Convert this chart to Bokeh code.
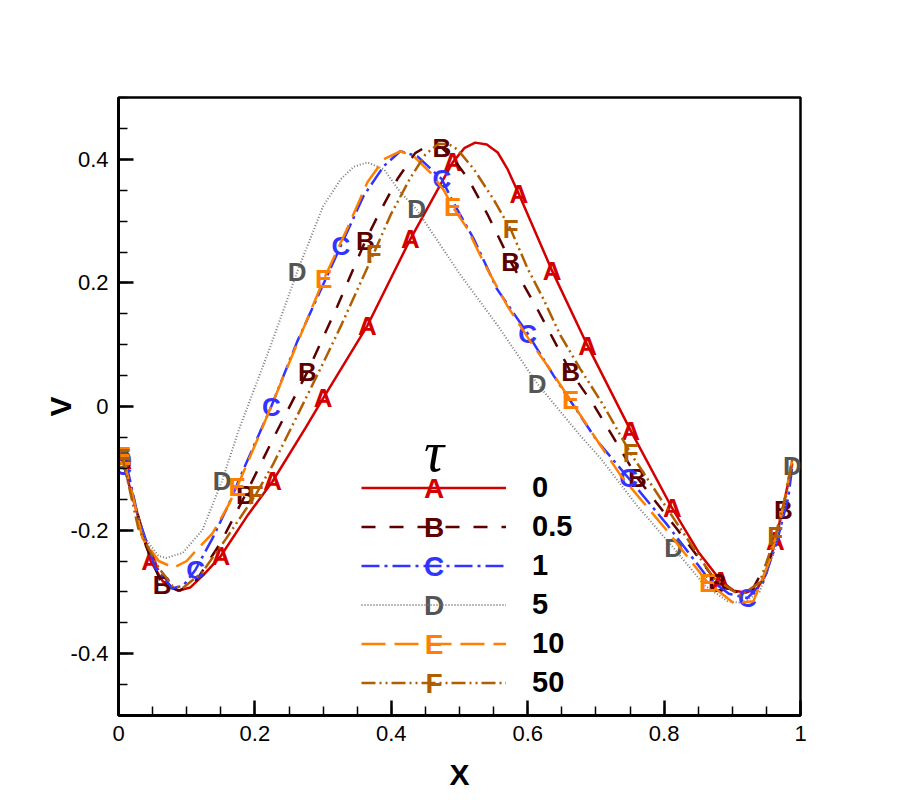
from bokeh.plotting import figure
from bokeh.models import (Range1d, FixedTicker, CustomJSTickFormatter, Legend,
                          LegendItem, Label)
from bokeh.core.properties import value
from bokeh.embed import file_html
from bokeh.resources import INLINE

# ---------------- data ----------------
series_names = ["A", "B", "C", "D", "E", "F"]
tau_labels = ["0", "0.5", "1", "5", "10", "50"]

a_x = [0.006, 0.02, 0.04, 0.047, 0.065, 0.087, 0.105, 0.125, 0.15, 0.19, 0.226, 0.274, 0.30,
       0.365, 0.428, 0.49, 0.507, 0.523, 0.54, 0.556, 0.57, 0.587, 0.636, 0.688, 0.751,
       0.812, 0.85, 0.883, 0.902, 0.92, 0.937, 0.95, 0.963, 0.975, 0.988]
a_y = [-0.087, -0.145, -0.218, -0.25, -0.283, -0.298, -0.293, -0.272, -0.242, -0.175, -0.121,
       -0.035, 0.013, 0.131, 0.271, 0.395, 0.418, 0.427, 0.424, 0.411, 0.385, 0.344, 0.219,
       0.098, -0.039, -0.165, -0.235, -0.282, -0.298, -0.301, -0.294, -0.27, -0.218, -0.16, -0.092]
a_mx = [0.006, 0.047, 0.15, 0.226, 0.30, 0.365, 0.428, 0.49, 0.587, 0.636, 0.688, 0.751, 0.812, 0.883, 0.963]
a_my = [-0.087, -0.25, -0.242, -0.121, 0.013, 0.131, 0.271, 0.395, 0.344, 0.219, 0.098, -0.039, -0.165, -0.282, -0.218]

b_x = [0.006, 0.02, 0.04, 0.064, 0.09, 0.115, 0.15, 0.186, 0.23, 0.277, 0.32, 0.362, 0.38,
       0.409, 0.435, 0.455, 0.474, 0.49, 0.513, 0.541, 0.575, 0.614, 0.663, 0.697, 0.724,
       0.761, 0.82, 0.878, 0.905, 0.93, 0.955, 0.975, 0.988]
b_y = [-0.087, -0.14, -0.225, -0.289, -0.298, -0.28, -0.22, -0.143, -0.045, 0.056, 0.16, 0.268,
       0.308, 0.368, 0.41, 0.423, 0.419, 0.402, 0.368, 0.311, 0.234, 0.158, 0.056, 0.002,
       -0.047, -0.116, -0.2, -0.285, -0.3, -0.295, -0.245, -0.168, -0.092]
b_mx = [0.006, 0.064, 0.186, 0.277, 0.362, 0.474, 0.575, 0.663, 0.761, 0.878, 0.975]
b_my = [-0.087, -0.289, -0.143, 0.056, 0.268, 0.419, 0.234, 0.056, -0.116, -0.285, -0.168]

c_x = [0.006, 0.015, 0.029, 0.054, 0.079, 0.095, 0.113, 0.138, 0.161, 0.182, 0.224, 0.262,
       0.326, 0.359, 0.389, 0.413, 0.438, 0.474, 0.491, 0.521, 0.555, 0.6, 0.638, 0.702,
       0.748, 0.805, 0.864, 0.895, 0.922, 0.945, 0.965, 0.982, 0.988]
c_y = [-0.097, -0.11, -0.18, -0.261, -0.294, -0.29, -0.264, -0.213, -0.16, -0.105, 0.0, 0.105,
       0.26, 0.34, 0.389, 0.413, 0.405, 0.368, 0.33, 0.271, 0.19, 0.118, 0.05, -0.056,
       -0.116, -0.192, -0.277, -0.303, -0.31, -0.285, -0.22, -0.148, -0.097]
c_mx = [0.006, 0.113, 0.224, 0.326, 0.474, 0.6, 0.748, 0.922]
c_my = [-0.097, -0.264, 0.0, 0.26, 0.368, 0.118, -0.116, -0.31]

d_x = [0.006, 0.02, 0.04, 0.059, 0.07, 0.094, 0.123, 0.152, 0.176, 0.223, 0.262, 0.3, 0.326,
       0.345, 0.365, 0.389, 0.413, 0.437, 0.5, 0.556, 0.614, 0.677, 0.707, 0.76, 0.814,
       0.86, 0.893, 0.915, 0.94, 0.96, 0.975, 0.988]
d_y = [-0.087, -0.15, -0.215, -0.242, -0.245, -0.237, -0.2, -0.12, -0.039, 0.098, 0.218, 0.324,
       0.368, 0.388, 0.395, 0.384, 0.347, 0.319, 0.215, 0.131, 0.037, -0.047, -0.084, -0.16,
       -0.229, -0.29, -0.315, -0.318, -0.30, -0.24, -0.17, -0.097]
d_mx = [0.006, 0.152, 0.262, 0.437, 0.614, 0.814, 0.988]
d_my = [-0.087, -0.12, 0.218, 0.319, 0.037, -0.229, -0.097]

e_x = [0.006, 0.02, 0.035, 0.059, 0.081, 0.1, 0.113, 0.138, 0.161, 0.174, 0.205, 0.25, 0.301,
       0.335, 0.365, 0.389, 0.413, 0.433, 0.457, 0.477, 0.49, 0.512, 0.535, 0.57, 0.604,
       0.629, 0.663, 0.697, 0.736, 0.805, 0.864, 0.902, 0.931, 0.956, 0.975, 0.988]
e_y = [-0.08, -0.14, -0.213, -0.25, -0.261, -0.25, -0.234, -0.205, -0.16, -0.13, -0.05, 0.07,
       0.206, 0.287, 0.363, 0.40, 0.413, 0.405, 0.379, 0.35, 0.323, 0.287, 0.234, 0.163,
       0.105, 0.066, 0.01, -0.047, -0.111, -0.202, -0.285, -0.318, -0.315, -0.245, -0.16, -0.085]
e_mx = [0.006, 0.174, 0.301, 0.49, 0.663, 0.864]
e_my = [-0.08, -0.13, 0.206, 0.323, 0.01, -0.285]

f_x = [0.006, 0.029, 0.059, 0.079, 0.094, 0.123, 0.157, 0.201, 0.226, 0.262, 0.3, 0.326,
       0.374, 0.399, 0.428, 0.45, 0.469, 0.485, 0.497, 0.521, 0.55, 0.575, 0.6, 0.623,
       0.648, 0.677, 0.711, 0.751, 0.814, 0.872, 0.912, 0.94, 0.963, 0.977, 0.988]
f_y = [-0.083, -0.197, -0.261, -0.29, -0.294, -0.268, -0.215, -0.143, -0.095, -0.015, 0.07,
       0.13, 0.247, 0.31, 0.37, 0.408, 0.425, 0.424, 0.416, 0.384, 0.335, 0.287, 0.223,
       0.174, 0.115, 0.061, 0.002, -0.076, -0.181, -0.277, -0.306, -0.285, -0.21, -0.15, -0.085]
f_mx = [0.006, 0.201, 0.374, 0.575, 0.751, 0.963]
f_my = [-0.083, -0.143, 0.247, 0.287, -0.076, -0.21]

x_ticks = [0, 0.2, 0.4, 0.6, 0.8, 1.0]
y_ticks = [-0.4, -0.2, 0, 0.2, 0.4]
x_minor = [i * 0.05 for i in range(0, 21)]
y_minor = [-0.5 + i * 0.05 for i in range(0, 21)]

# ---------------- styles ----------------
line_colors = ["#d40000", "#5c0000", "#3333ff", "#7a7a7a", "#ff8000", "#b05e00"]
mark_colors = ["#d40000", "#5c0000", "#3333ff", "#555555", "#ff8000", "#b05e00"]
dashes = ["solid", "14 14", "18 5 3 5", "1 2", "24 9", "14 4 2 4 2 4"]
widths = [2.5, 2.5, 2.5, 2.0, 2.5, 2.5]

xs = [a_x, b_x, c_x, d_x, e_x, f_x]
ys = [a_y, b_y, c_y, d_y, e_y, f_y]
mxs = [a_mx, b_mx, c_mx, d_mx, e_mx, f_mx]
mys = [a_my, b_my, c_my, d_my, e_my, f_my]

FONT = "Liberation Sans"

p = figure(width=894, height=793, output_backend="svg", toolbar_location=None,
           x_range=Range1d(0, 1), y_range=Range1d(-0.5, 0.5),
           min_border_left=118, min_border_right=94, min_border_top=97,
           min_border_bottom=75, background_fill_color="white",
           border_fill_color="white")
p.grid.visible = False
p.outline_line_color = "black"
p.outline_line_width = 2.5

fmt = CustomJSTickFormatter(code="return String(Math.round(tick*10)/10);")
for ax, ticks, minor, lab in ((p.xaxis[0], x_ticks, x_minor, "X"),
                              (p.yaxis[0], y_ticks, y_minor, "V")):
    ax.ticker = FixedTicker(ticks=ticks, minor_ticks=minor)
    ax.formatter = fmt
    ax.axis_label = lab
    ax.axis_label_text_font = FONT
    ax.axis_label_text_font_style = "bold"
    ax.axis_label_text_font_size = "30px"
    ax.axis_label_text_color = "black"
    ax.major_label_text_font = FONT
    ax.major_label_text_font_size = "22px"
    ax.major_label_text_color = "black"
    ax.major_label_standoff = 10
    ax.axis_line_width = 3
    ax.axis_line_color = "black"
    ax.major_tick_in = 15
    ax.major_tick_out = 0
    ax.minor_tick_in = 9
    ax.minor_tick_out = 0
    ax.major_tick_line_width = 2.5
    ax.minor_tick_line_width = 1.5
    ax.major_tick_line_color = "black"
    ax.minor_tick_line_color = "black"
p.xaxis.axis_label_standoff = 14
p.yaxis.axis_label_standoff = -9

renderers = []
for i in range(6):
    r = p.line(xs[i], ys[i], line_color=line_colors[i], line_width=widths[i],
               line_dash=dashes[i])
    renderers.append(r)
    p.text(mxs[i], mys[i], text=[series_names[i]] * len(mxs[i]),
           text_font=value(FONT), text_font_style="bold", text_font_size="26px",
           text_color=mark_colors[i], text_align="center", text_baseline="middle")

# ---------------- legend ----------------
leg_x, leg_y = 243, 13
glyph_w, row_h = 145, 39
legend = Legend(items=[LegendItem(label=tau_labels[i], renderers=[renderers[i]])
                       for i in range(6)],
                location=(leg_x, leg_y), glyph_width=glyph_w, glyph_height=row_h,
                label_height=row_h, spacing=0, padding=0, margin=0, label_standoff=26,
                border_line_color=None, background_fill_alpha=0,
                label_text_font=FONT, label_text_font_style="bold",
                label_text_font_size="29px", label_text_color="black")
p.add_layout(legend)

top = leg_y + 6 * row_h
for i in range(6):
    p.add_layout(Label(x=leg_x + glyph_w / 2, y=top - row_h / 2 - i * row_h,
                       x_units="screen", y_units="screen", text=series_names[i],
                       text_font=FONT, text_font_style="bold", text_font_size="28px",
                       text_color=mark_colors[i], text_align="center",
                       text_baseline="middle"))
p.add_layout(Label(x=leg_x + glyph_w / 2, y=top - 14, x_units="screen", y_units="screen",
                   text="τ", text_font="Liberation Serif", text_font_style="italic",
                   text_font_size="56px", text_color="black", text_align="center",
                   text_baseline="bottom"))

open("out.html", "w").write(file_html(p, INLINE))
